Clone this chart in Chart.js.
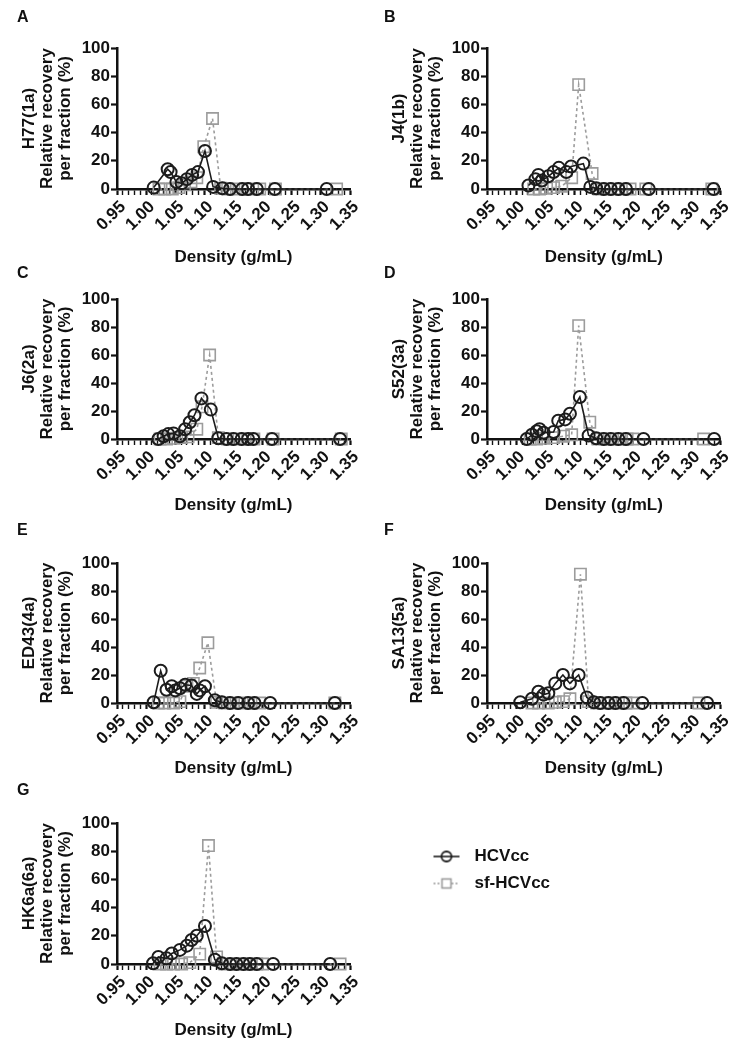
<!DOCTYPE html>
<html><head><meta charset="utf-8">
<script src="https://cdn.jsdelivr.net/npm/chart.js@4.4.1/dist/chart.umd.min.js"></script>
<style>
html,body{margin:0;padding:0;background:#fff;}
body{width:737px;height:1050px;position:relative;overflow:hidden;font-family:'Liberation Sans',Arial,sans-serif;}
canvas{position:absolute;}
.lt{position:absolute;font-weight:bold;font-size:16px;color:#111;line-height:16px;z-index:2;}
</style></head><body>
<script>
// ---------- data ----------
const panelLetters = ['A','B','C','D','E','F','G'];
const strainNames = ['H77(1a)','J4(1b)','J6(2a)','S52(3a)','ED43(4a)','SA13(5a)','HK6a(6a)'];
const seriesNames = ['HCVcc','sf-HCVcc'];
const xTickMajor = [0.95,1.00,1.05,1.10,1.15,1.20,1.25,1.30,1.35];

const aHcvDensity  = [1.013,1.037,1.042,1.052,1.061,1.070,1.079,1.089,1.101,1.115,1.131,1.144,1.165,1.175,1.190,1.221,1.310];
const aHcvRecovery = [1,14,12,5,4,7,10,12,27,1.5,0.5,0,0,0,0,0,0];
const aSfDensity   = [1.022,1.032,1.045,1.056,1.066,1.077,1.087,1.099,1.114,1.128,1.140,1.155,1.170,1.183,1.195,1.222,1.327];
const aSfRecovery  = [0,0,0,1,3,5,8,30,50,0.5,0,0,0,0,0,0,0];

const bHcvDensity  = [1.021,1.033,1.038,1.044,1.055,1.064,1.073,1.086,1.094,1.115,1.127,1.137,1.150,1.162,1.175,1.188,1.227,1.338];
const bHcvRecovery = [2.5,7,10,6,9,12,15,12,16,18,1.5,0.5,0,0,0,0,0,0];
const bSfDensity   = [1.030,1.040,1.052,1.064,1.078,1.095,1.107,1.130,1.142,1.155,1.168,1.180,1.195,1.222,1.335];
const bSfRecovery  = [0,0,0.5,1,2,8,74,11,0,0,0,0,0,0,0];

const cHcvDensity  = [1.021,1.030,1.038,1.047,1.058,1.067,1.075,1.083,1.095,1.111,1.124,1.138,1.150,1.164,1.175,1.184,1.216,1.333];
const cHcvRecovery = [0,2,3.5,4,2,7,12,17,29,21,0.5,0,0,0,0,0,0,0];
const cSfDensity   = [1.024,1.035,1.047,1.061,1.072,1.087,1.096,1.109,1.124,1.140,1.155,1.170,1.185,1.218,1.335];
const cSfRecovery  = [0,0,0.5,1,1.5,7,23,60,1,0,0,0,0,0,0];

const dHcvDensity  = [1.018,1.027,1.035,1.040,1.047,1.064,1.072,1.084,1.092,1.109,1.124,1.137,1.150,1.162,1.175,1.188,1.218,1.339];
const dHcvRecovery = [0,3,5.5,7,4.5,5,13,14,18,30,2.5,0.5,0,0,0,0,0,0];
const dSfDensity   = [1.024,1.035,1.047,1.064,1.081,1.095,1.107,1.126,1.140,1.152,1.165,1.178,1.190,1.200,1.321];
const dSfRecovery  = [0,0,0.5,1,2,3,81,12,0,0,0,0,0,0,0];

const eHcvDensity  = [1.013,1.025,1.035,1.044,1.050,1.058,1.067,1.078,1.087,1.092,1.101,1.118,1.130,1.144,1.158,1.175,1.186,1.213,1.324];
const eHcvRecovery = [0.5,23,9.5,12,9,10.5,13,12.5,6.5,9,12,2,0.5,0,0,0,0,0,0];
const eSfDensity   = [1.021,1.032,1.047,1.058,1.070,1.081,1.092,1.106,1.121,1.135,1.150,1.165,1.180,1.195,1.324];
const eSfRecovery  = [0,0,0,1,12,14,25,43,0.5,0,0,0,0,0,0];

const fHcvDensity  = [1.007,1.027,1.038,1.047,1.055,1.067,1.080,1.092,1.107,1.121,1.133,1.144,1.158,1.170,1.184,1.216,1.327];
const fHcvRecovery = [0.5,3,8,6,7,14,20,14,20,4,0.5,0,0,0,0,0,0];
const fSfDensity   = [1.027,1.038,1.055,1.067,1.081,1.092,1.110,1.124,1.138,1.150,1.162,1.175,1.188,1.200,1.313];
const fSfRecovery  = [0,0,0,0.5,1,3,92,1,0,0,0,0,0,0,0];

const gHcvDensity  = [1.012,1.021,1.035,1.044,1.058,1.070,1.078,1.087,1.101,1.118,1.130,1.144,1.155,1.167,1.178,1.190,1.218,1.316];
const gHcvRecovery = [0.5,5,4,7.5,10,13,17,20,27,3,0.5,0,0,0,0,0,0,0];
const gSfDensity   = [1.024,1.035,1.047,1.061,1.075,1.092,1.107,1.121,1.135,1.150,1.165,1.178,1.190,1.200,1.333];
const gSfRecovery  = [0,0,0,0,1,7,84,5,0,0,0,0,0,0,0];

const hcvDensities = [aHcvDensity,bHcvDensity,cHcvDensity,dHcvDensity,eHcvDensity,fHcvDensity,gHcvDensity];
const hcvRecoveries = [aHcvRecovery,bHcvRecovery,cHcvRecovery,dHcvRecovery,eHcvRecovery,fHcvRecovery,gHcvRecovery];
const sfDensities = [aSfDensity,bSfDensity,cSfDensity,dSfDensity,eSfDensity,fSfDensity,gSfDensity];
const sfRecoveries = [aSfRecovery,bSfRecovery,cSfRecovery,dSfRecovery,eSfRecovery,fSfRecovery,gSfRecovery];

// ---------- layout ----------
const FONT = "'Liberation Sans', Arial, Helvetica, sans-serif";
Chart.defaults.font.family = FONT;
Chart.defaults.font.size = 17;
Chart.defaults.font.weight = 'bold';
Chart.defaults.color = '#111';

const cols = [{cx:0, cw:368, L:117, R:350, lx:17}, {cx:370, cw:367, L:487, R:722, lx:384}];
const rows = [{cy:0, ch:270, T:48, B:189, ly:9}, {cy:262, ch:256, T:299, B:439, ly:265},
              {cy:520, ch:261, T:563, B:703, ly:522}, {cy:782, ch:261, T:823, B:964, ly:782}];

const HCV_COLOR = '#1c1c1c', SF_COLOR = '#9c9c9c';

function isMajor(v){ return Math.abs(Math.round(v*100)) % 5 === 0; }

panelLetters.forEach((letter, i) => {
  const col = cols[i % 2], row = rows[Math.floor(i / 2)];
  const lt = document.createElement('div');
  lt.className = 'lt'; lt.textContent = letter;
  lt.style.left = col.lx + 'px'; lt.style.top = row.ly + 'px';
  document.body.appendChild(lt);

  const cv = document.createElement('canvas');
  cv.width = col.cw; cv.height = row.ch;
  cv.style.left = col.cx + 'px'; cv.style.top = row.cy + 'px';
  document.body.appendChild(cv);

  const hcvPts = hcvDensities[i].map((x, k) => ({x, y: hcvRecoveries[i][k]}));
  const sfPts = sfDensities[i].map((x, k) => ({x, y: sfRecoveries[i][k]}));

  new Chart(cv, {
    type: 'scatter',
    data: { datasets: [
      { label: seriesNames[0], data: hcvPts, showLine: true, borderColor: HCV_COLOR, borderWidth: 1.6,
        pointStyle: 'circle', pointRadius: 6, pointBorderWidth: 2, pointBorderColor: HCV_COLOR,
        pointBackgroundColor: 'rgba(255,255,255,0)', clip: false },
      { label: seriesNames[1], data: sfPts, showLine: true, borderColor: SF_COLOR, borderWidth: 1.6,
        borderDash: [3, 3], pointStyle: 'rect', pointRadius: 8, pointBorderWidth: 1.6,
        pointBorderColor: SF_COLOR, pointBackgroundColor: 'rgba(255,255,255,0)', clip: false }
    ]},
    options: {
      responsive: false, animation: false, devicePixelRatio: 1,
      layout: { padding: { left: 0, top: row.T - row.cy, right: col.cx + col.cw - col.R, bottom: 0 } },
      plugins: { legend: { display: false }, tooltip: { enabled: false }, title: { display: false } },
      scales: {
        x: {
          type: 'linear', position: 'bottom', min: xTickMajor[0], max: xTickMajor[xTickMajor.length - 1],
          afterFit: (s) => { s.height = row.cy + row.ch - row.B; },
          border: { display: true, color: '#111', width: 2.5 },
          grid: { drawOnChartArea: false, drawTicks: true, tickLength: 6, tickColor: '#111',
                  tickWidth: (c) => (c.tick && isMajor(c.tick.value)) ? 2.2 : 1.4 },
          ticks: { stepSize: 0.01, autoSkip: false, minRotation: 45, maxRotation: 45, padding: 2, labelOffset: 6,
                   color: '#111', callback: (v) => isMajor(v) ? Number(v).toFixed(2) : '' },
          title: { display: true, text: 'Density (g/mL)', color: '#111', padding: { top: 0, bottom: 2 } }
        },
        y: {
          type: 'linear', min: 0, max: 100,
          afterFit: (s) => { s.width = col.L - col.cx; },
          border: { display: true, color: '#111', width: 2.5 },
          grid: { drawOnChartArea: false, drawTicks: true, tickLength: 6, tickColor: '#111', tickWidth: 2.2 },
          ticks: { stepSize: 20, padding: 1, color: '#111' },
          title: { display: true, text: [strainNames[i], 'Relative recovery', 'per fraction (%)'], color: '#111',
                   font: { size: 17, weight: 'bold', lineHeight: 1.06 }, padding: { top: 20, bottom: 0 } }
        }
      }
    }
  });
});

// ---------- legend ----------
function makeIcon(kind){
  const c = document.createElement('canvas');
  c.width = 28; c.height = 16;
  const g = c.getContext('2d');
  g.lineWidth = 1.6;
  if (kind === 0) {
    g.strokeStyle = HCV_COLOR;
    g.beginPath(); g.moveTo(1, 8); g.lineTo(27, 8); g.stroke();
    g.lineWidth = 1.8; g.beginPath(); g.arc(14, 8, 5, 0, Math.PI * 2); g.stroke();
  } else {
    g.strokeStyle = SF_COLOR; g.setLineDash([2, 2]);
    g.beginPath(); g.moveTo(1, 8); g.lineTo(9, 8); g.moveTo(19, 8); g.lineTo(27, 8); g.stroke();
    g.setLineDash([]); g.strokeRect(9.5, 3.5, 9, 9);
  }
  return c;
}
const legendIcons = [makeIcon(0), makeIcon(1)];
const lc = document.createElement('canvas');
lc.width = 320; lc.height = 70;
lc.style.left = '417px'; lc.style.top = '838px';
document.body.appendChild(lc);
new Chart(lc, {
  type: 'scatter',
  data: { datasets: seriesNames.map((n) => ({ label: n, data: [] })) },
  options: {
    responsive: false, animation: false, devicePixelRatio: 1,
    layout: { padding: 0 },
    scales: { x: { display: false }, y: { display: false } },
    plugins: {
      tooltip: { enabled: false },
      legend: {
        display: true, position: 'left', align: 'start', maxWidth: 300,
        labels: {
          usePointStyle: true, pointStyleWidth: 39, padding: 10, color: '#111',
          font: { size: 17, weight: 'bold' },
          generateLabels: (chart) => chart.data.datasets.map((ds, k) => ({
            text: ds.label, pointStyle: legendIcons[k], fillStyle: 'rgba(0,0,0,0)',
            strokeStyle: 'rgba(0,0,0,0)', lineWidth: 0, hidden: false, datasetIndex: k, fontColor: '#111'
          }))
        }
      }
    }
  }
});
</script>
</body></html>
